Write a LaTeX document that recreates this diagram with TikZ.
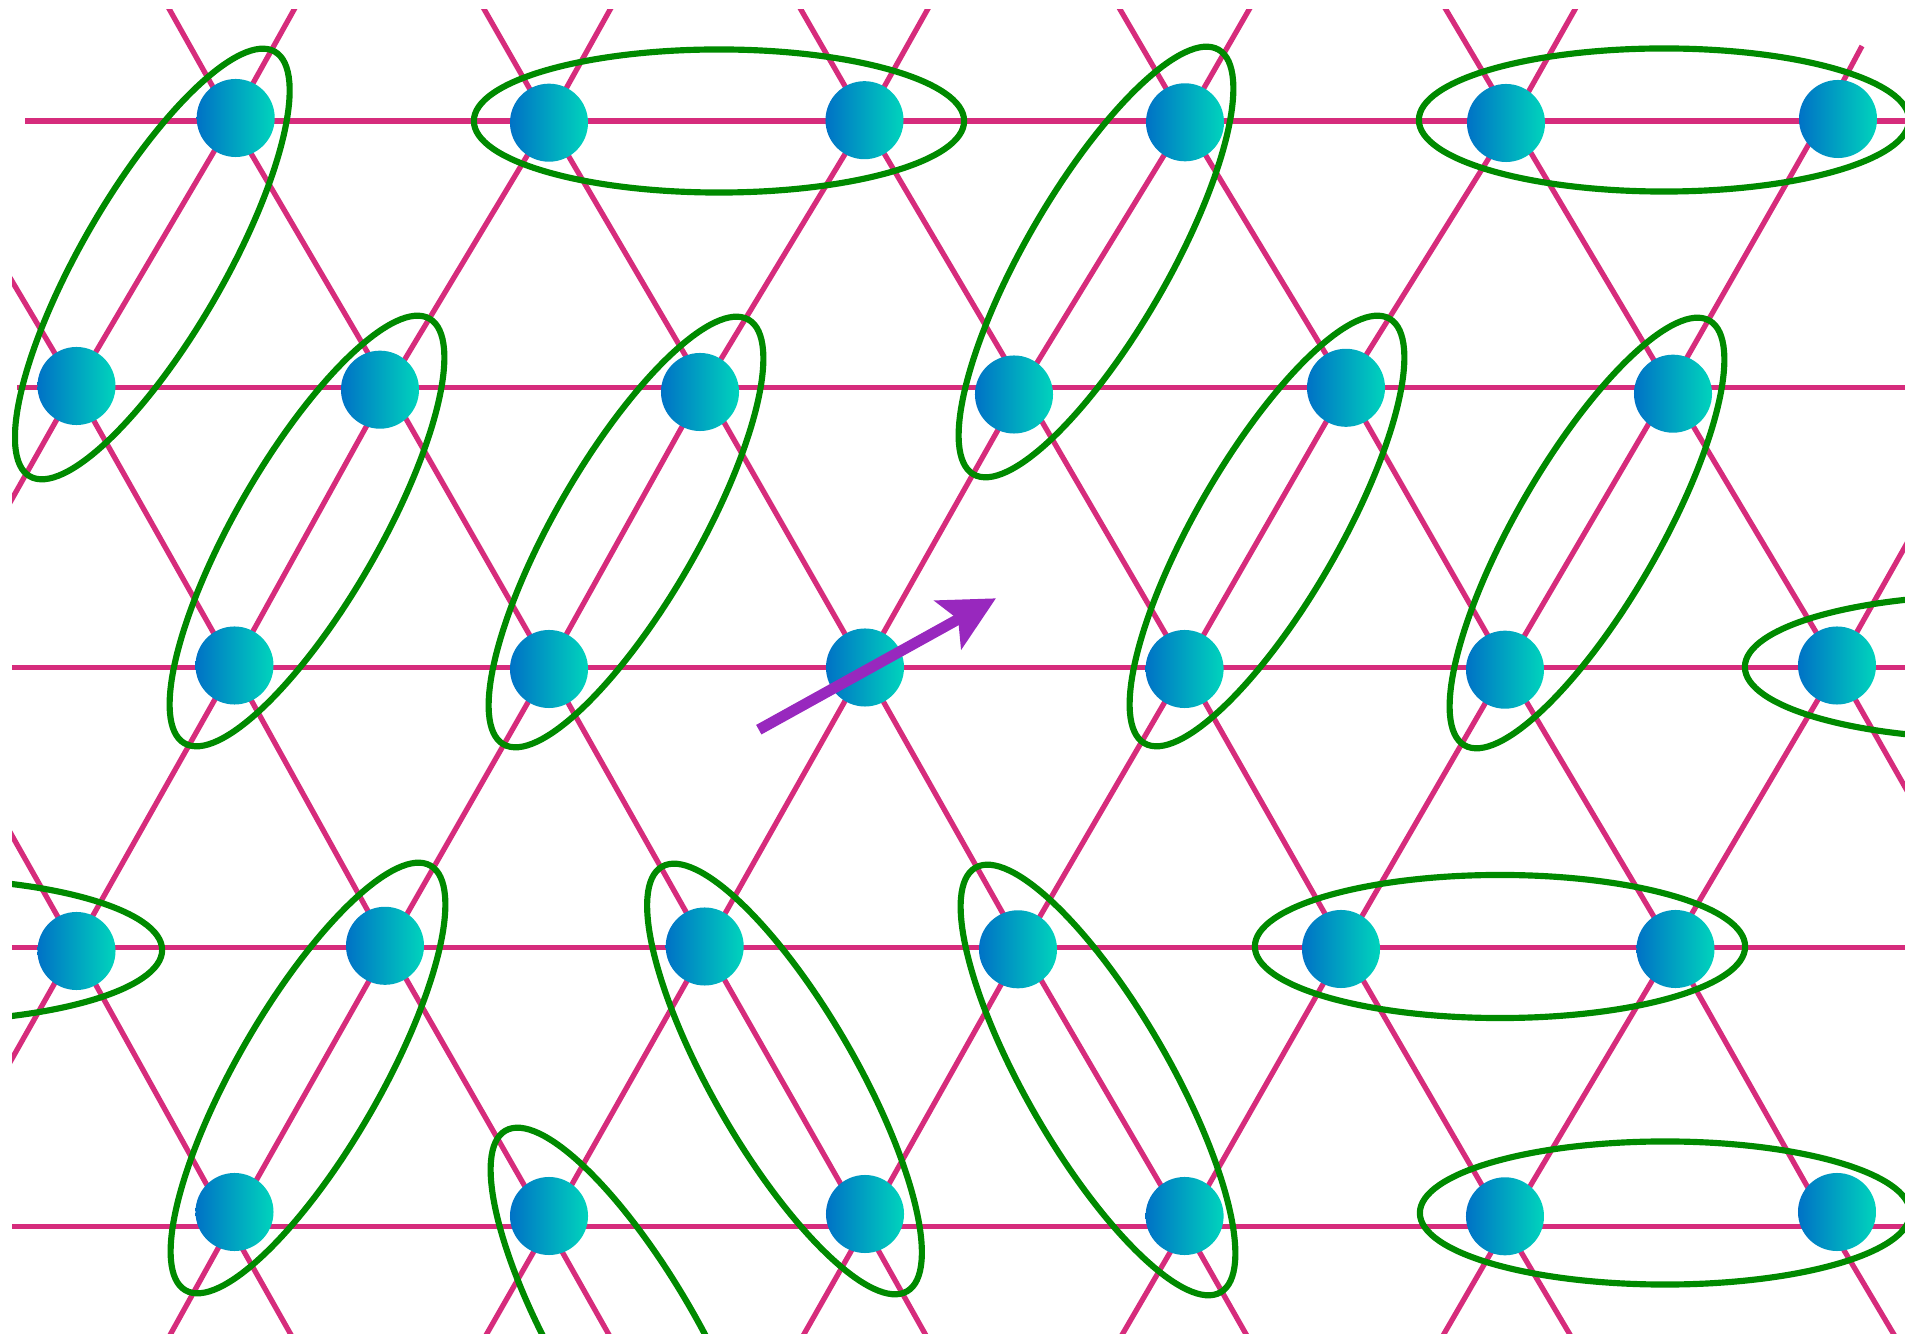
\documentclass[tikz,border=0pt]{standalone}
\usetikzlibrary{arrows.meta}
\definecolor{bond}{RGB}{214,44,124}
\definecolor{dimerc}{RGB}{0,138,0}
\definecolor{spinc}{RGB}{152,40,190}
\definecolor{atomL}{RGB}{0,114,198}
\definecolor{atomR}{RGB}{0,212,188}
\begin{document}
\begin{tikzpicture}[x=0.01cm,y=-0.01cm,
  bondline/.style={draw=bond,line width=1.5pt},
  dimer/.style={draw=dimerc,line width=1.75pt},
  atom/.style={circle,inner sep=0pt,minimum size=0.78cm,left color=atomL,right color=atomR,draw=none},
  spin/.style={draw=spinc,line width=3.1pt,-{Stealth[length=15.5pt,width=15.5pt,inset=3.2pt]}}]
\useasboundingbox (0,0) rectangle (1905,1334);
% lattice vertices
\coordinate (vA0) at (75,-159);  \coordinate (vA1) at (388,-159); \coordinate (vA2) at (704,-159);
\coordinate (vA3) at (1022,-159);\coordinate (vA4) at (1346,-159);\coordinate (vA5) at (1670,-159);
\coordinate (v0n) at (-83,121); \coordinate (v00) at (232,121); \coordinate (v01) at (548,121);
\coordinate (v02) at (865,121); \coordinate (v03) at (1185,121); \coordinate (v04) at (1512,121);
\coordinate (v05) at (1822,121);
\coordinate (v10) at (75,387.3); \coordinate (v11) at (388,387.3); \coordinate (v12) at (704,387.3);
\coordinate (v13) at (1022,387.3); \coordinate (v14) at (1346,387.3); \coordinate (v15) at (1670,387.3);
\coordinate (v16) at (1995,387.3);
\coordinate (v2n) at (-83,667.3); \coordinate (v20) at (233,667.3); \coordinate (v21) at (548,667.3);
\coordinate (v22) at (864,667.3); \coordinate (v23) at (1185,667.3); \coordinate (v24) at (1506,667.3);
\coordinate (v25) at (1837,667.3);
\coordinate (v30) at (75,947.3); \coordinate (v31) at (388,947.3); \coordinate (v32) at (706,947.3);
\coordinate (v33) at (1022,947.3); \coordinate (v34) at (1344,947.3); \coordinate (v35) at (1672,947.3);
\coordinate (v36) at (1996,947.3);
\coordinate (v4n) at (-83,1226.7); \coordinate (v40) at (230,1226.7); \coordinate (v41) at (548,1226.7);
\coordinate (v42) at (865,1226.7); \coordinate (v43) at (1185,1226.7); \coordinate (v44) at (1506,1226.7);
\coordinate (v45) at (1830,1226.7);
\coordinate (vB0) at (75,1506.7); \coordinate (vB1) at (388,1506.7); \coordinate (vB2) at (706,1506.7);
\coordinate (vB3) at (1022,1506.7); \coordinate (vB4) at (1344,1506.7); \coordinate (vB5) at (1672,1506.7);
\coordinate (vB6) at (1996,1506.7);
\coordinate (l5top) at (1862,46);
\coordinate (h0s) at (25,121);   \coordinate (h0e) at (1960,121);
\coordinate (h1s) at (17,387.3); \coordinate (h1e) at (1960,387.3);
\coordinate (h2e) at (1960,667.3);
\coordinate (h3e) at (1960,947.3);
\coordinate (h4e) at (1960,1226.7);
\begin{scope}
\clip (12,10) rectangle (1905,1334);
% horizontal bonds
\draw[bondline] (h0s) -- (h0e);
\draw[bondline] (h1s) -- (h1e);
\draw[bondline] (v2n) -- (h2e);
\draw[bondline] (v4n) -- (h4e);
\draw[bondline] (v2n |- v30) -- (h3e);
% "/" bonds
\draw[bondline] (vA1) -- (v00) -- (v10) -- (v2n);
\draw[bondline] (vA2) -- (v01) -- (v11) -- (v20) -- (v30) -- (v4n);
\draw[bondline] (vA3) -- (v02) -- (v12) -- (v21) -- (v31) -- (v40) -- (vB0);
\draw[bondline] (vA4) -- (v03) -- (v13) -- (v22) -- (v32) -- (v41) -- (vB1);
\draw[bondline] (vA5) -- (v04) -- (v14) -- (v23) -- (v33) -- (v42) -- (vB2);
\draw[bondline] (l5top) -- (v05) -- (v15) -- (v24) -- (v34) -- (v43) -- (vB3);
\draw[bondline] (v16) -- (v25) -- (v35) -- (v44) -- (vB4);
% "\" bonds
\draw[bondline] (v2n) -- (v30) -- (v40) -- (vB1);
\draw[bondline] (v0n) -- (v10) -- (v20) -- (v31) -- (v41) -- (vB2);
\draw[bondline] (vA0) -- (v00) -- (v11) -- (v21) -- (v32) -- (v42) -- (vB3);
\draw[bondline] (vA1) -- (v01) -- (v12) -- (v22) -- (v33) -- (v43) -- (vB4);
\draw[bondline] (vA2) -- (v02) -- (v13) -- (v23) -- (v34) -- (v44) -- (vB5);
\draw[bondline] (vA3) -- (v03) -- (v14) -- (v24) -- (v35) -- (v45) -- (vB6);
\draw[bondline] (vA4) -- (v04) -- (v15) -- (v25) -- (v36);
% atoms
\node[atom] (a00) at (235.7,118) {};
\node[atom] (a01) at (549,122.7) {};
\node[atom] (a02) at (864.5,120.2) {};
\node[atom] (a03) at (1185,122.3) {};
\node[atom] (a04) at (1506,123) {};
\node[atom] (a05) at (1838,119) {};
\node[atom] (a10) at (76.5,386) {};
\node[atom] (a11) at (380,389.7) {};
\node[atom] (a12) at (700,392) {};
\node[atom] (a13) at (1014,394.5) {};
\node[atom] (a14) at (1346,387.8) {};
\node[atom] (a15) at (1673,393.7) {};
\node[atom] (a20) at (234.5,665.5) {};
\node[atom] (a21) at (549,669) {};
\node[atom] (a22) at (865,667.5) {};
\node[atom] (a23) at (1184.6,669) {};
\node[atom] (a24) at (1505,669.7) {};
\node[atom] (a25) at (1837,665.5) {};
\node[atom] (a30) at (76.5,951) {};
\node[atom] (a31) at (385,945.8) {};
\node[atom] (a32) at (704.7,946.5) {};
\node[atom] (a33) at (1018,949.3) {};
\node[atom] (a34) at (1341,949) {};
\node[atom] (a35) at (1675.5,949) {};
\node[atom] (a40) at (234.5,1212) {};
\node[atom] (a41) at (549,1216) {};
\node[atom] (a42) at (865,1214) {};
\node[atom] (a43) at (1184.6,1216) {};
\node[atom] (a44) at (1505,1216.3) {};
\node[atom] (a45) at (1837,1212) {};
% dimers (valence bonds)
\draw[dimer] (719,121) circle[x radius=2.45cm,y radius=0.715cm];
\draw[dimer] (1664,120) circle[x radius=2.45cm,y radius=0.715cm];
\draw[dimer] (1990,667) circle[x radius=2.45cm,y radius=0.715cm];
\draw[dimer] (-83,950) circle[x radius=2.45cm,y radius=0.715cm];
\draw[dimer] (1500,946.5) circle[x radius=2.45cm,y radius=0.715cm];
\draw[dimer] (1665,1213) circle[x radius=2.45cm,y radius=0.715cm];
\draw[dimer] (152.3,264) circle[x radius=2.45cm,y radius=0.715cm,rotate=60];
\draw[dimer] (1096,262) circle[x radius=2.45cm,y radius=0.715cm,rotate=60];
\draw[dimer] (307,531) circle[x radius=2.45cm,y radius=0.715cm,rotate=60];
\draw[dimer] (626,532) circle[x radius=2.45cm,y radius=0.715cm,rotate=60];
\draw[dimer] (1267,531) circle[x radius=2.45cm,y radius=0.715cm,rotate=60];
\draw[dimer] (1587,533) circle[x radius=2.45cm,y radius=0.715cm,rotate=60];
\draw[dimer] (308,1078) circle[x radius=2.45cm,y radius=0.715cm,rotate=60];
\draw[dimer] (784.5,1079) circle[x radius=2.45cm,y radius=0.715cm,rotate=-60];
\draw[dimer] (1098,1080) circle[x radius=2.45cm,y radius=0.715cm,rotate=-60];
\draw[dimer] (628,1343) circle[x radius=2.45cm,y radius=0.715cm,rotate=-60];
\end{scope}
% spin arrow
\coordinate (spintail) at (758.8,729.7);
\coordinate (spintip) at (996,598.3);
\draw[spin] (spintail) -- (spintip);
\end{tikzpicture}
\end{document}
